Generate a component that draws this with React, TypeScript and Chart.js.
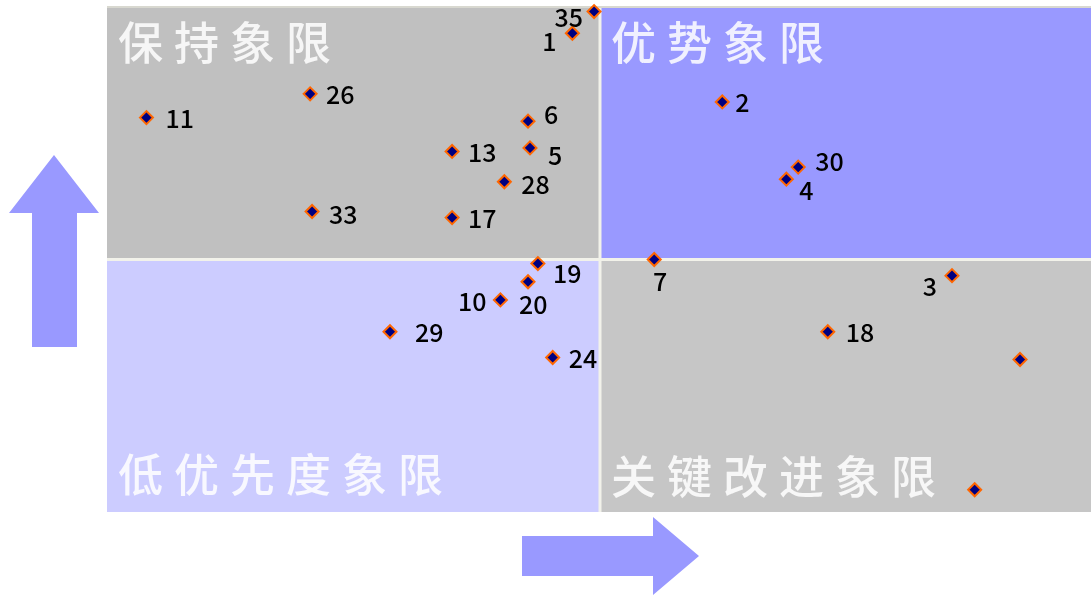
import React, { useEffect, useRef } from "react";
import { Chart, registerables } from "chart.js";

Chart.register(...registerables);

// ---- data ----
const pointLabels = ["35", "1", "26", "11", "6", "13", "5", "28", "33", "17", "2", "30", "4", "19", "20", "10", "29", "24", "7", "3", "18", "", ""];
const xValues = [49.4, 47.2, 20.6, 4.0, 42.7, 35.0, 42.9, 40.3, 20.8, 35.0, 62.4, 70.1, 68.9, 43.7, 42.7, 39.9, 28.7, 45.2, 55.5, 85.7, 73.1, 92.6, 88.0];
const yValues = [99.1, 94.8, 82.8, 78.1, 77.4, 71.4, 72.1, 65.4, 59.5, 58.3, 81.2, 68.3, 65.9, 49.2, 45.6, 42.0, 35.7, 30.6, 50.0, 46.8, 35.7, 30.2, 4.4];
const quadrantTitles = ["保持象限", "优势象限", "低优先度象限", "关键改进象限"];
const axisMin = 0;
const axisMax = 100;
const xMid = 50;
const yMid = 50;

// ---- label placement style: [align, dx, dy] ----
const labelPlacement: [CanvasTextAlign, number, number][] = [
  ["right", -11, 6], ["right", -16, 9], ["left", 16, 1], ["left", 19, 1], ["left", 16, -6],
  ["left", 16, 2], ["left", 18, 8], ["left", 17, 3], ["left", 17, 3], ["left", 16, 1],
  ["left", 13, 1], ["left", 17, -5], ["left", 13, 12], ["left", 15, 10], ["left", -9, 23],
  ["right", -14, 2], ["left", 25, 1], ["left", 16, 2], ["center", 6, 22], ["right", -15, 11],
  ["left", 18, 1], ["left", 0, 0], ["left", 0, 0],
];

const COLORS = {
  q1: "#c0c0c0",
  q2: "#9999ff",
  q3: "#ccccff",
  q4: "#c6c6c6",
  divider: "#f2f2ea",
  arrow: "#9999ff",
  title: "rgba(255,255,255,0.85)",
};

const quadrantPlugin = {
  id: "quadrants",
  beforeDatasetsDraw(chart: any) {
    const { ctx, chartArea: a, scales } = chart;
    const mx = scales.x.getPixelForValue(xMid);
    const my = scales.y.getPixelForValue(yMid);
    ctx.save();
    ctx.fillStyle = COLORS.q1;
    ctx.fillRect(a.left, a.top, mx - a.left, my - a.top);
    ctx.fillStyle = COLORS.q2;
    ctx.fillRect(mx, a.top, a.right - mx, my - a.top);
    ctx.fillStyle = COLORS.q3;
    ctx.fillRect(a.left, my, mx - a.left, a.bottom - my);
    ctx.fillStyle = COLORS.q4;
    ctx.fillRect(mx, my, a.right - mx, a.bottom - my);
    // dividers
    ctx.strokeStyle = COLORS.divider;
    ctx.lineWidth = 3;
    ctx.beginPath();
    ctx.moveTo(mx, a.top);
    ctx.lineTo(mx, a.bottom);
    ctx.moveTo(a.left, my);
    ctx.lineTo(a.right, my);
    ctx.stroke();
    ctx.strokeStyle = "#d8d8d0";
    ctx.lineWidth = 2;
    ctx.beginPath();
    ctx.moveTo(a.left, a.top);
    ctx.lineTo(a.right, a.top);
    ctx.stroke();
    // titles
    ctx.font = '500 45px "Noto Sans CJK SC"';
    ctx.fillStyle = COLORS.title;
    ctx.textBaseline = "middle";
    ctx.textAlign = "left";
    const step = 56;
    const drawTitle = (t: string, x: number, y: number) => {
      [...t].forEach((c, i) => ctx.fillText(c, x + i * step, y));
    };
    drawTitle(quadrantTitles[0], a.left + 11, a.top + 36);
    drawTitle(quadrantTitles[1], mx + 11, a.top + 36);
    drawTitle(quadrantTitles[2], a.left + 11, a.bottom - 37);
    drawTitle(quadrantTitles[3], mx + 11, a.bottom - 35);
    // arrows
    ctx.fillStyle = COLORS.arrow;
    const ax = a.left - 53;
    ctx.beginPath();
    ctx.moveTo(ax, a.top + 148);
    ctx.lineTo(ax + 45, a.top + 206);
    ctx.lineTo(ax + 23, a.top + 206);
    ctx.lineTo(ax + 23, a.top + 340);
    ctx.lineTo(ax - 22, a.top + 340);
    ctx.lineTo(ax - 22, a.top + 206);
    ctx.lineTo(ax - 45, a.top + 206);
    ctx.closePath();
    ctx.fill();
    const ay = a.bottom + 44;
    ctx.beginPath();
    ctx.moveTo(mx + 99, ay);
    ctx.lineTo(mx + 53, ay - 39);
    ctx.lineTo(mx + 53, ay - 20);
    ctx.lineTo(mx - 78, ay - 20);
    ctx.lineTo(mx - 78, ay + 20);
    ctx.lineTo(mx + 53, ay + 20);
    ctx.lineTo(mx + 53, ay + 39);
    ctx.closePath();
    ctx.fill();
    ctx.restore();
  },
  afterDatasetsDraw(chart: any) {
    const { ctx } = chart;
    const meta = chart.getDatasetMeta(0);
    ctx.save();
    ctx.font = '500 25px "Noto Sans CJK SC"';
    ctx.fillStyle = "#000000";
    ctx.textBaseline = "alphabetic";
    meta.data.forEach((pt: any, i: number) => {
      const label = pointLabels[i];
      if (!label) return;
      const [align, dx, dy] = labelPlacement[i];
      ctx.textAlign = align;
      ctx.fillText(label, pt.x + dx, pt.y + dy + 9);
    });
    ctx.restore();
  },
};

export default function App() {
  const ref = useRef<HTMLCanvasElement>(null);
  useEffect(() => {
    if (!ref.current) return;
    const chart = new Chart(ref.current, {
      type: "scatter",
      data: {
        datasets: [
          {
            data: xValues.map((x, i) => ({ x, y: yValues[i] })),
            pointStyle: "rectRot",
            pointRadius: 6.5,
            pointHoverRadius: 6.5,
            backgroundColor: "#000080",
            borderColor: "#ff6600",
            borderWidth: 2,
            clip: false,
          } as any,
        ],
      },
      options: {
        animation: false,
        responsive: false,
        layout: { padding: { left: 107, top: 9, right: 9, bottom: 86 } },
        scales: {
          x: { type: "linear", min: axisMin, max: axisMax, display: false },
          y: { type: "linear", min: axisMin, max: axisMax, display: false },
        },
        plugins: { legend: { display: false }, tooltip: { enabled: false } },
      },
      plugins: [quadrantPlugin],
    });
    return () => chart.destroy();
  }, []);
  return (
    <div style={{ position: "fixed", left: 0, top: 0, width: 1091, height: 598, overflow: "hidden", background: "#fff" }}>
      <canvas ref={ref} width={1102} height={600} style={{ display: "block", position: "absolute", left: 0, top: -2 }} />
    </div>
  );
}
